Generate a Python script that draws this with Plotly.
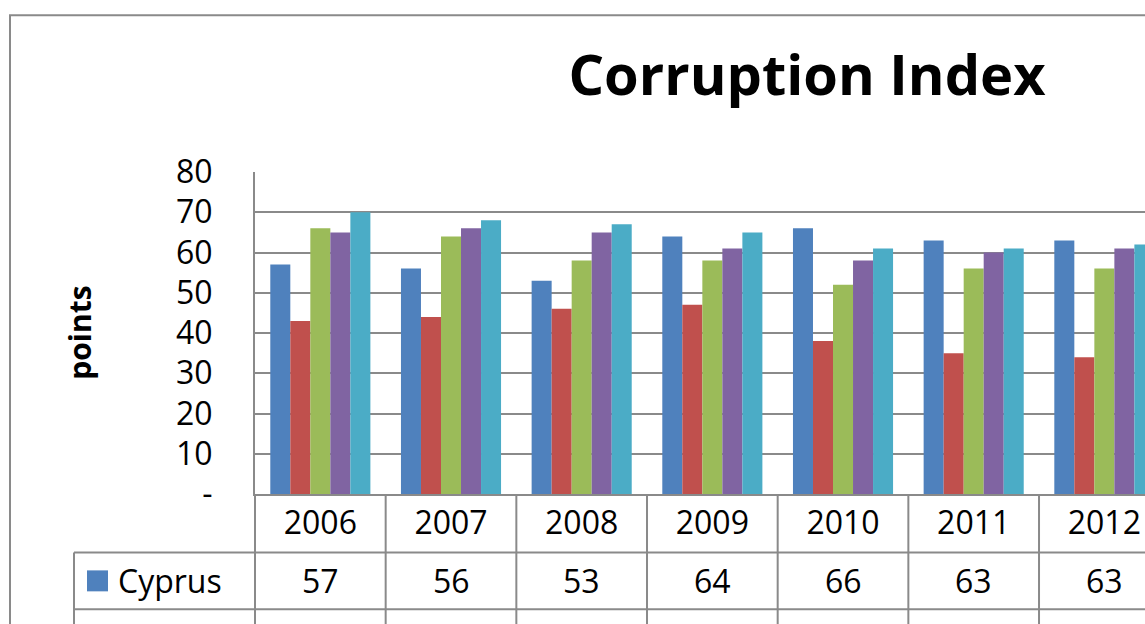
import plotly.graph_objects as go

# ---------------- data ----------------
years = ["2006", "2007", "2008", "2009", "2010", "2011", "2012"]
series_names = ["Cyprus", "Greece", "Malta", "Portugal", "Spain"]
cyprus = [57, 56, 53, 64, 66, 63, 63]
greece = [43, 44, 46, 47, 38, 35, 34]
malta = [66, 64, 58, 58, 52, 56, 56]
portugal = [65, 66, 65, 61, 58, 60, 61]
spain = [70, 68, 67, 65, 61, 61, 62]
y_tickvals = [0, 10, 20, 30, 40, 50, 60, 70, 80]
y_ticktext = ["-", "10", "20", "30", "40", "50", "60", "70", "80"]

values = [cyprus, greece, malta, portugal, spain]
colors = ["#4F81BD", "#C0504D", "#9BBB59", "#8064A2", "#4BACC6"]

# ---------------- geometry (window pixels) ----------------
W, H = 1145, 624
PLOT_L, PLOT_T, PLOT_B = 255, 172, 494.5
L = PLOT_L
T = PLOT_T
B = H - PLOT_B
R = 0
PW = W - L - R
PH = H - T - B
CAT_W = 130.67
GRID = "#8a8a8a"
FONT = "Open Sans"


def px_x(px):
    return (px - PLOT_L) / PW


def px_y(py):
    return (PLOT_B - py) / PH


fig = go.Figure()
for name, vals, col in zip(series_names, values, colors):
    fig.add_trace(go.Bar(x=years, y=vals, name=name, marker=dict(color=col, line=dict(width=0))))

x_hi = -0.5 + PW / CAT_W

shapes = []
annotations = []

# outer chart border
shapes.append(dict(type="rect", xref="paper", yref="paper",
                   x0=px_x(10), x1=px_x(W + 200), y0=px_y(H + 200), y1=px_y(15),
                   line=dict(color=GRID, width=2), layer="below"))

# data table
row_top0 = 553
row_h = 57
n_rows = len(series_names)
table_bottom = row_top0 + row_h * n_rows
for r in range(n_rows + 1):
    yy = px_y(row_top0 + r * row_h)
    shapes.append(dict(type="line", xref="paper", yref="paper",
                       x0=px_x(74), x1=px_x(W + 50), y0=yy, y1=yy,
                       line=dict(color=GRID, width=2)))
shapes.append(dict(type="line", xref="paper", yref="paper",
                   x0=px_x(74), x1=px_x(74), y0=px_y(row_top0), y1=px_y(table_bottom),
                   line=dict(color=GRID, width=2)))
shapes.append(dict(type="line", xref="paper", yref="paper",
                   x0=0, x1=0, y0=0, y1=px_y(table_bottom),
                   line=dict(color=GRID, width=2)))
for i in range(1, len(years) + 1):
    shapes.append(dict(type="line", xref="x", yref="paper",
                       x0=i - 0.5, x1=i - 0.5, y0=0, y1=px_y(table_bottom),
                       line=dict(color=GRID, width=2)))

for r, (name, vals, col) in enumerate(zip(series_names, values, colors)):
    cy = row_top0 + r * row_h + row_h / 2
    shapes.append(dict(type="rect", xref="paper", yref="paper",
                       x0=px_x(87), x1=px_x(108), y0=px_y(cy + 10.5), y1=px_y(cy - 10.5),
                       fillcolor=col, line=dict(width=0)))
    annotations.append(dict(xref="paper", yref="paper", x=px_x(116), y=px_y(cy),
                            xanchor="left", yanchor="middle", showarrow=False,
                            text=name, font=dict(family=FONT, size=32, color="black")))
    for i, v in enumerate(vals):
        annotations.append(dict(xref="x", yref="paper", x=i, y=px_y(cy),
                                xanchor="center", yanchor="middle", showarrow=False,
                                text=str(v), font=dict(family=FONT, size=32, color="black")))

# axis title
annotations.append(dict(xref="paper", yref="paper", x=px_x(80), y=px_y(333),
                        xanchor="center", yanchor="middle", showarrow=False, textangle=-90,
                        text="<b>points</b>", font=dict(family=FONT, size=30, color="black")))

fig.update_layout(
    width=W, height=H,
    margin=dict(l=L, r=R, t=T, b=B, pad=0),
    paper_bgcolor="white", plot_bgcolor="white",
    barmode="group", bargap=0.234, bargroupgap=0,
    showlegend=False,
    title=dict(text="<b>Corruption Index</b>", xref="paper", x=px_x(807), xanchor="center",
               yref="container", y=1 - 75 / H, yanchor="middle",
               font=dict(family=FONT, size=56, color="black")),
    font=dict(family=FONT, size=32, color="black"),
    shapes=shapes,
    annotations=annotations,
)
fig.update_xaxes(type="category", range=[-0.5, x_hi], showgrid=False,
                 showline=True, linecolor=GRID, linewidth=2,
                 ticks="", ticklabelstandoff=0,
                 tickfont=dict(family=FONT, size=32, color="black"))
fig.update_yaxes(range=[0, 80], tickvals=y_tickvals, ticktext=y_ticktext,
                 showgrid=True, gridcolor=GRID, gridwidth=2,
                 showline=True, linecolor=GRID, linewidth=2,
                 ticks="", ticklabelstandoff=34, zeroline=False,
                 tickfont=dict(family=FONT, size=32, color="black"))

fig.write_html("out.html", config={"displayModeBar": False},
               post_script="document.body.style.margin='0';document.body.style.overflow='hidden';")
